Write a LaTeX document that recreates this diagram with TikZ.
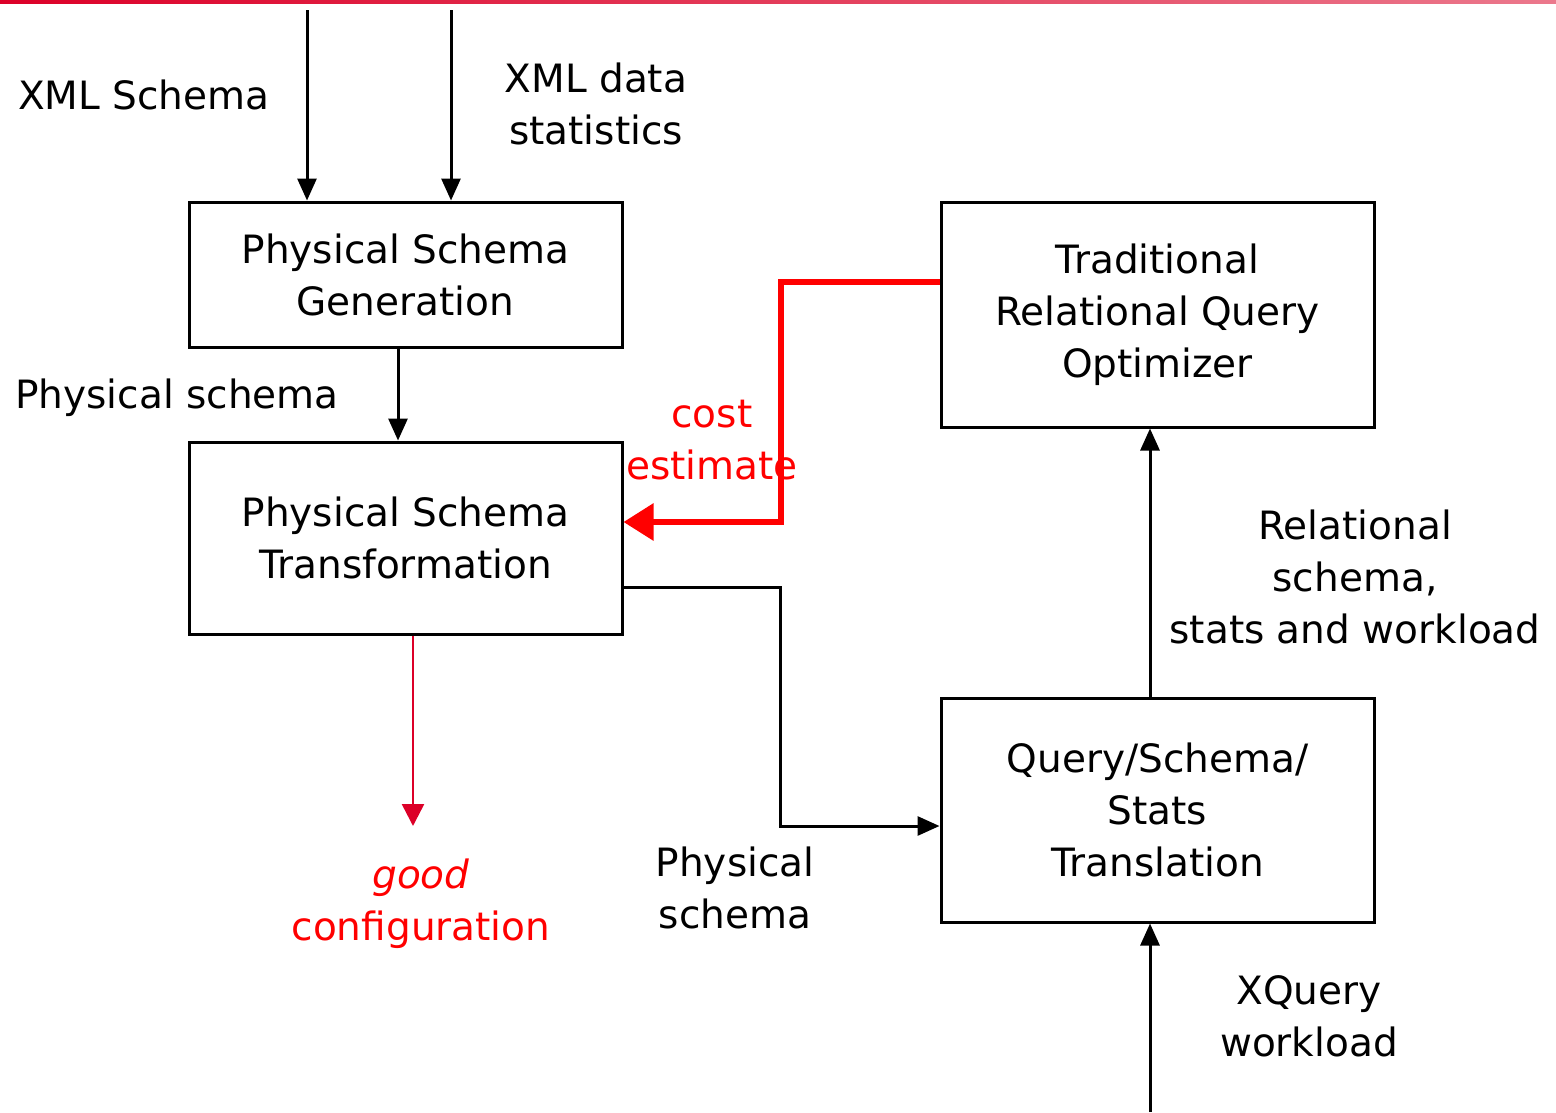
\documentclass[tikz,border=0pt]{standalone}
\usepackage{fontspec}
\setmainfont{DejaVu Sans}
\usetikzlibrary{arrows.meta}
\definecolor{hotred}{RGB}{255,0,0}
\definecolor{crim}{RGB}{220,0,40}
\definecolor{rosy}{RGB}{235,120,140}
\begin{document}
\begin{tikzpicture}[x=1pt,y=-1pt,
  every node/.style={inner sep=0pt},
  txt/.style={font=\fontsize{39}{52}\selectfont, align=center},
  procbox/.style={draw, line width=3pt, minimum width=433pt, txt},
  flow/.style={line width=3pt, -{Triangle[length=22pt,width=19pt]}},
  redflow/.style={hotred, line width=6pt, -{Triangle[length=30pt,width=36pt]}},
]
\useasboundingbox (0,0) rectangle (1556,1112);
\fill[white] (0,0) rectangle (1556,1112);
% decorative band along the upper edge
\shade[left color=crim, right color=rosy] (0,0) rectangle (1556,3.5);

% process boxes
\node[procbox, minimum height=145pt] (gen) at (405.5,274.5) {Physical Schema\\Generation};
\node[procbox, minimum height=192pt] (trans) at (405.5,538) {Physical Schema\\Transformation};
\node[procbox, minimum height=225pt] (opt) at (1157.5,314.5) {Traditional\\Relational Query\\Optimizer};
\node[procbox, minimum height=224pt] (tr) at (1157.5,810) {Query/Schema/\\Stats\\Translation};

% free ends of the incoming connectors
\coordinate (inA) at (307,10);
\coordinate (inB) at (451,10);
\coordinate (inC) at (1150,1112);
\coordinate (outG) at (413,826);

% labels
\node[txt, anchor=west] (lxml) at (18,95) {XML Schema};
\node[txt] (lstat) at (596,104) {XML data\\statistics};
\node[txt, anchor=west] (lphys) at (15,398) {Physical schema};
\node[txt, text=hotred] (lcost) at (712,440) {cost\\estimate};
\node[txt, text=hotred] (lgood) at (421,904) {\textit{good}\\configuration};
\node[txt] (lphys2) at (735,888) {Physical\\schema};
\node[txt] (lrel) at (1355,577) {Relational\\schema,\\stats and workload};
\node[txt] (lxq) at (1309,1016) {XQuery\\workload};

% connectors
\draw[flow] (inA) -- (inA |- gen.north);
\draw[flow] (inB) -- (inB |- gen.north);
\draw[flow] (gen.south -| 398,0) -- (398,0 |- trans.north);
\draw[flow] (trans.east |- 0,587) -- (780,587) -- (780,826) -- (tr.west |- 0,826);
\draw[flow] (tr.north -| 1150,0) -- (1150,0 |- opt.south);
\draw[flow] (inC) -- (inC |- tr.south);
\draw[redflow] (opt.west |- 0,282) -- (781,282) -- (781,522) -- (trans.east |- 0,522);
\draw[crim, line width=2.5pt, -{Triangle[length=22pt,width=22pt]}] (trans.south -| outG) -- (outG);
\end{tikzpicture}
\end{document}
